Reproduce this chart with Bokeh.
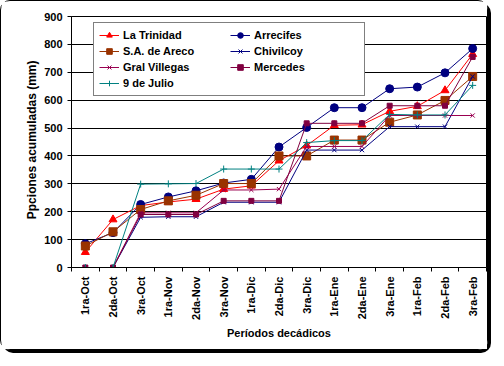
from math import pi
from bokeh.plotting import figure
from bokeh.models import Range1d, FixedTicker, Legend, LegendItem, Title
from bokeh.embed import file_html
from bokeh.resources import INLINE

periods = ["1ra-Oct", "2da-Oct", "3ra-Oct", "1ra-Nov", "2da-Nov", "3ra-Nov",
           "1ra-Dic", "2da-Dic", "3ra-Dic", "1ra-Ene", "2da-Ene", "3ra-Ene",
           "1ra-Feb", "2da-Feb", "3ra-Feb"]

la_trinidad = [55, 172, 222, 235, 245, 281, 293, 383, 437, 510, 512, 560, 578, 635, 765]
arrecifes = [85, 125, 226, 253, 275, 303, 316, 432, 502, 573, 573, 641, 647, 698, 785]
sa_areco = [77, 128, 208, 239, 259, 301, 301, 400, 400, 457, 457, 521, 547, 599, 685]
chivilcoy = [0, 0, 180, 182, 182, 234, 234, 234, 421, 421, 421, 505, 505, 505, 685]
gral_villegas = [0, 0, 196, 196, 196, 278, 278, 281, 434, 434, 434, 545, 545, 545, 545]
mercedes = [0, 0, 190, 190, 190, 239, 239, 239, 517, 517, 517, 580, 580, 580, 755]
nueve_julio = [0, 0, 299, 300, 301, 353, 353, 353, 448, 455, 455, 549, 547, 547, 653]

y_ticks = [0, 100, 200, 300, 400, 500, 600, 700, 800, 900]

FONT = "Liberation Sans"

x = list(range(1, len(periods) + 1))

p = figure(width=488, height=350, output_backend="svg", toolbar_location=None,
           x_range=Range1d(0.5, len(periods) + 0.5), y_range=Range1d(0, 900),
           min_border_left=70, min_border_right=3, min_border_top=15,
           min_border_bottom=84)
p.styles = {"border": "1px solid black", "border-radius": "10px",
            "box-shadow": "3px 3px 0px black", "box-sizing": "border-box"}
p.background_fill_color = "white"
p.border_fill_color = "white"
p.outline_line_color = "black"
p.outline_line_width = 1

# y axis
p.yaxis.ticker = FixedTicker(ticks=y_ticks, minor_ticks=[])
p.yaxis.major_tick_out = 4
p.yaxis.major_tick_in = 0
p.yaxis.major_tick_line_color = "black"
p.yaxis.axis_line_color = "black"
p.yaxis.major_label_text_font = FONT
p.yaxis.major_label_text_font_style = "bold"
p.yaxis.major_label_text_font_size = "11px"
p.yaxis.major_label_text_color = "black"
p.yaxis.major_label_standoff = 5

ytitle = Title(text="Ppciones acumuladas (mm)", align="right", offset=44,
               standoff=5, text_font=FONT, text_font_style="bold",
               text_font_size="12px", text_color="black")
p.add_layout(ytitle, "left")

# x axis
p.xaxis.ticker = FixedTicker(ticks=x, minor_ticks=[i + 0.5 for i in range(len(periods) + 1)])
p.xaxis.major_tick_line_color = None
p.xaxis.major_tick_out = 4
p.xaxis.major_tick_in = 0
p.xaxis.minor_tick_line_color = "black"
p.xaxis.minor_tick_out = 4
p.xaxis.minor_tick_in = 0
p.xaxis.axis_line_color = "black"
p.xaxis.major_label_overrides = {i + 1: lab for i, lab in enumerate(periods)}
p.xaxis.major_label_orientation = pi / 2
p.xaxis.major_label_text_font = FONT
p.xaxis.major_label_text_font_style = "bold"
p.xaxis.major_label_text_font_size = "11px"
p.xaxis.major_label_text_color = "black"
p.xaxis.major_label_standoff = 5
p.xaxis.axis_label = "Períodos decádicos"
p.xaxis.axis_label_text_font = FONT
p.xaxis.axis_label_text_font_style = "bold"
p.xaxis.axis_label_text_font_size = "11px"
p.xaxis.axis_label_text_color = "black"
p.xaxis.axis_label_standoff = 4

p.xgrid.grid_line_color = None
p.ygrid.ticker = FixedTicker(ticks=y_ticks)
p.ygrid.grid_line_color = "black"
p.ygrid.grid_line_width = 1

series = [
    ("La Trinidad", la_trinidad, "#FF0000", "triangle", 8),
    ("Arrecifes", arrecifes, "#000080", "circle", 8),
    ("S.A. de Areco", sa_areco, "#993300", "square", 8),
    ("Chivilcoy", chivilcoy, "#000080", "x", 6),
    ("Gral Villegas", gral_villegas, "#990050", "x", 6),
    ("Mercedes", mercedes, "#800040", "square", 5),
    ("9 de Julio", nueve_julio, "#008080", "cross", 7),
]

items = {}
for name, vals, color, marker, size in series:
    l = p.line(x, vals, line_color=color, line_width=1)
    s = p.scatter(x, vals, marker=marker, size=size, line_color=color,
                  fill_color=color, line_width=1)
    items[name] = LegendItem(label=name, renderers=[l, s])

order = ["La Trinidad", "S.A. de Areco", "Gral Villegas", "9 de Julio",
         "Arrecifes", "Chivilcoy", "Mercedes"]
legend = Legend(items=[items[n] for n in order], orientation="vertical", nrows=4,
                location=(22, 171), padding=5, spacing=2,
                glyph_width=20, glyph_height=14, label_height=14, label_width=105,
                label_standoff=4,
                label_text_font=FONT, label_text_font_style="bold",
                label_text_font_size="11px", label_text_color="black",
                border_line_color="black", border_line_width=1,
                background_fill_color="white", background_fill_alpha=1.0)
p.add_layout(legend, "center")

open("out.html", "w").write(file_html(p, INLINE))
